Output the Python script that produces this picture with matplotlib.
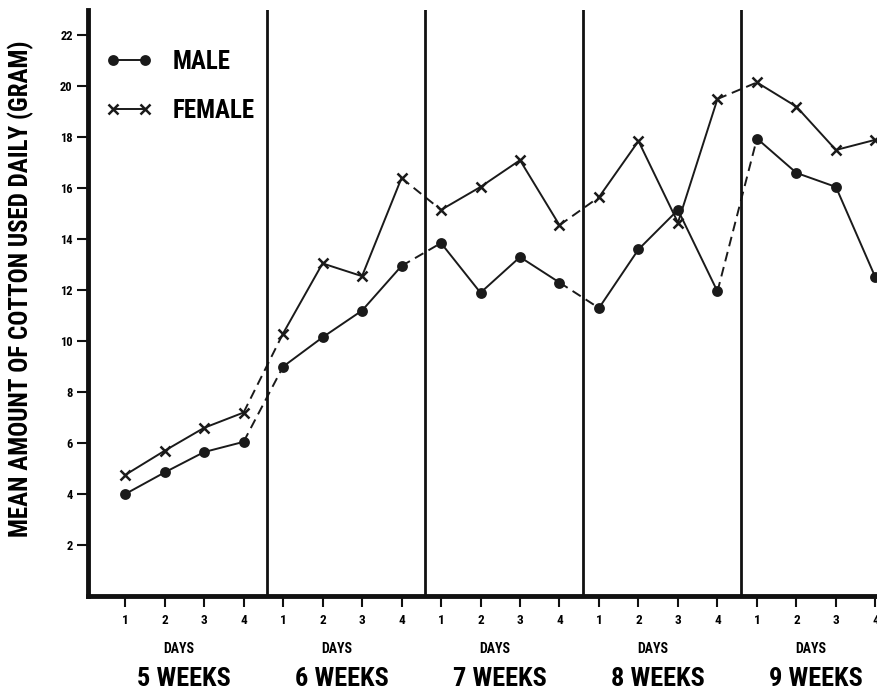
import numpy as np
import matplotlib.pyplot as plt
from matplotlib.transforms import blended_transform_factory

# mean daily cotton use (gram), 4 days per age week
weeks = ['5 WEEKS', '6 WEEKS', '7 WEEKS', '8 WEEKS', '9 WEEKS']
days = ['1', '2', '3', '4']
male = [4.0, 4.85, 5.65, 6.05,
        9.0, 10.15, 11.2, 12.95,
        13.85, 11.9, 13.3, 12.3,
        11.3, 13.6, 15.15, 11.95,
        17.95, 16.6, 16.05, 12.5]
female = [4.75, 5.7, 6.6, 7.2,
          10.3, 13.05, 12.55, 16.4,
          15.15, 16.05, 17.1, 14.55,
          15.65, 17.85, 14.65, 19.5,
          20.15, 19.2, 17.5, 17.9]
y_ticks = [2, 4, 6, 8, 10, 12, 14, 16, 18, 20, 22]

plt.rcParams['font.family'] = ['Roboto Condensed', 'DejaVu Sans']
plt.rcParams['font.weight'] = 'bold'

fig = plt.figure(figsize=(8.77, 6.98), dpi=100)
ax = fig.add_axes([0.1003, 0.146, 0.8997, 0.84])

x = np.arange(len(male))
n = len(days)
ink = '#1a1a1a'

for series, mk, ms, lab in [(male, 'o', 6, 'MALE'), (female, 'x', 7, 'FEMALE')]:
    for g in range(len(weeks)):
        sl = slice(g * n, (g + 1) * n)
        ax.plot(x[sl], series[sl], color=ink, lw=1.4, marker=mk,
                markersize=ms, mew=1.8, label=lab if g == 0 else None)
        if g < len(weeks) - 1:
            i = (g + 1) * n - 1
            ax.plot(x[i:i + 2], series[i:i + 2], color=ink, lw=1.4, ls=(0, (5, 3)))

# week separators
for g in range(1, len(weeks)):
    ax.axvline(g * n - 0.4, color='#111111', lw=2)

ax.set_xlim(-0.94, 19.04)
ax.set_ylim(0, 23)
ax.set_yticks(y_ticks)
ax.set_yticklabels([str(v) for v in y_ticks], fontsize=9)
ax.set_xticks(x)
ax.set_xticklabels(days * len(weeks), fontsize=9.5)
ax.tick_params(axis='both', direction='out', length=8, width=1.5, color='#111111')
ax.tick_params(axis='x', pad=5)
ax.tick_params(axis='y', pad=3)
for s in ['top', 'right']:
    ax.spines[s].set_visible(False)
for s in ['left', 'bottom']:
    ax.spines[s].set_linewidth(3.5)
    ax.spines[s].set_color('#111111')

trans = blended_transform_factory(ax.transData, ax.transAxes)
for g, w in enumerate(weeks):
    cx = g * n + (n - 1) / 2
    ax.text(cx - 0.15, -0.09, 'DAYS', transform=trans, ha='center', va='center',
            fontsize=10, fontweight='bold')
    ax.text(cx, -0.142, w, transform=trans, ha='center', va='center',
            fontsize=19, fontweight='bold')

ax.set_ylabel('MEAN AMOUNT OF COTTON USED DAILY (GRAM)', fontsize=18,
              fontweight='bold')
ax.yaxis.set_label_coords(-0.068, 0.524)

ax.legend(loc='upper left', frameon=False, fontsize=18, handlelength=1.9,
          handletextpad=0.8, labelspacing=1.0, borderaxespad=0.3,
          bbox_to_anchor=(0.0, 0.962), numpoints=2)

fig.savefig('out.png', dpi=100)
